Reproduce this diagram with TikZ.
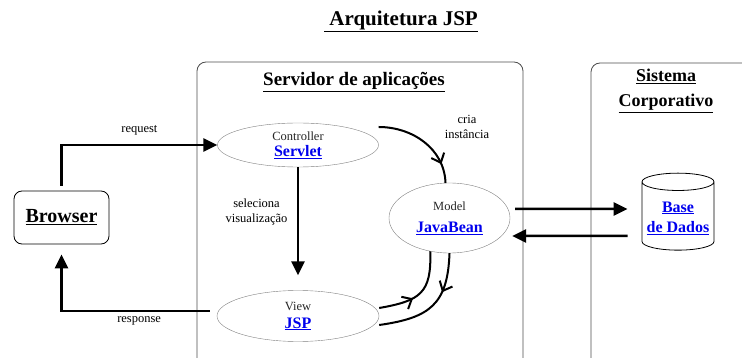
\documentclass[tikz,border=0pt]{standalone}
\usepackage{fontspec}
\setmainfont{Liberation Serif}
\usetikzlibrary{arrows.meta, positioning, shapes.geometric, decorations.markings}
\definecolor{linkblue}{rgb}{0.0, 0.0, 0.93}
\definecolor{framegray}{rgb}{0.3, 0.3, 0.3}

\tikzset{
  part/.style={ellipse, draw=gray, inner sep=0pt, align=center, text=black!85, font=\fontsize{12.5}{14}\selectfont},
  bigarrow/.style={-{Triangle[length=14pt, width=13pt]}, line width=2.5pt},
  midbarb/.style={line width=2pt, postaction={decorate},
    decoration={markings, mark=at position #1 with {\arrow{Straight Barb[length=8pt, width=14pt]}}}},
}
\newcommand{\lnk}[1]{\textcolor{linkblue}{\underline{\textbf{\fontsize{16}{18}\selectfont #1}}}}

\begin{document}
\begin{tikzpicture}[x=1pt, y=-1pt, node distance=171pt]
    \useasboundingbox (0,0) rectangle (742,358);

    % Containers
    \draw[framegray, line width=0.8pt, rounded corners=9pt] (197,62) rectangle (523,390);
    \draw[framegray, line width=0.8pt, rounded corners=9pt] (591,63) rectangle (770,390);

    % Titles
    \node (title) at (401,21) {\fontsize{21}{24}\selectfont\bfseries\underline{\ Arquitetura JSP}};
    \node (server) at (354,82) {\fontsize{19}{22}\selectfont\bfseries\underline{Servidor de aplicações}};
    \node (corp) at (666,91) [align=center, font=\fontsize{18}{25}\selectfont\bfseries] {\underline{Sistema}\\\underline{Corporativo}};

    % Components
    \node (ctrl) at (298,145) [part, minimum width=161pt, minimum height=44pt] {Controller\\[2pt]\lnk{Servlet}};
    \node (view) [part, below of=ctrl, minimum width=162pt, minimum height=51pt] {View\\[4pt]\lnk{JSP}};
    \node (model) at (449.5,218) [part, minimum width=121pt, minimum height=70pt] {Model\\[8pt]\lnk{JavaBean}};
    \node (browser) at (61.5,217.5) [draw, line width=0.8pt, rounded corners=8pt, minimum width=95pt, minimum height=53pt, font=\fontsize{20}{24}\selectfont\bfseries] {\underline{Browser}};
    \node (db) [right of=model, xshift=57.5pt, cylinder, shape border rotate=90, draw, line width=0.8pt, aspect=0.25, minimum width=72pt, minimum height=77pt, align=center] {\lnk{Base}\\[6pt]\lnk{de Dados}};

    % Arrows
    \draw[bigarrow, shorten <=5pt] (browser.north) |- (ctrl.west) node[pos=0.75, above=5pt, font=\fontsize{12.5}{14}\selectfont] {request};
    \draw[bigarrow, shorten <=7pt, shorten >=10pt] ([yshift=5pt]view.west) -| (browser.south) node[pos=0.25, below=1pt, font=\fontsize{12.5}{14}\selectfont] {response};
    \draw[bigarrow, shorten >=15pt] (ctrl.south) -- (view.north) node[pos=0.36, left=6pt, align=center, font=\fontsize{12.5}{15}\selectfont] {seleciona\\visualização};
    \draw[midbarb=0.8] ([yshift=18pt]ctrl.east) to[out=0, in=92] ([xshift=-4pt]model.north);
    \node (cria) at (467,127) [align=center, font=\fontsize{12.5}{15}\selectfont] {cria\\instância};
    \draw[midbarb=0.4] ([yshift=8pt]view.east) to[out=10, in=-88, looseness=1.4] (model.240);
    \draw[midbarb=0.35] (model.south) to[out=-92, in=8, looseness=1.3] ([yshift=-9pt]view.east);
    \draw[bigarrow, shorten <=5pt, shorten >=14pt] ([yshift=9pt]model.east) -- ([yshift=9pt]db.west);
    \draw[bigarrow, shorten <=14pt, shorten >=2pt] ([yshift=-18pt]db.west) -- ([yshift=-18pt]model.east);
\end{tikzpicture}
\end{document}
